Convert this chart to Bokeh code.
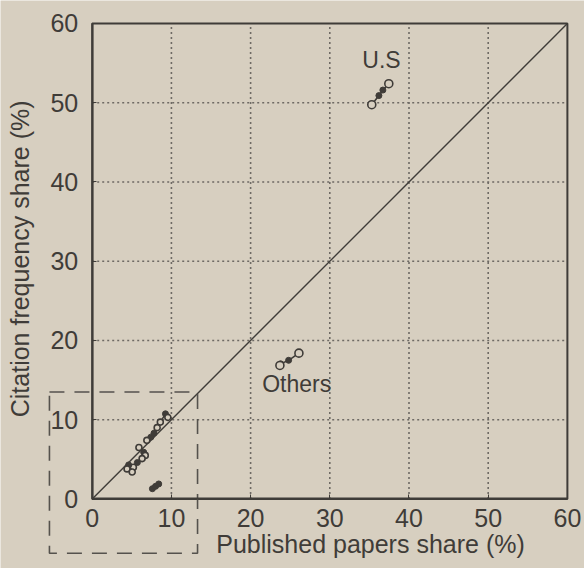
import math
from bokeh.plotting import figure
from bokeh.models import Range1d, FixedTicker, Label
from bokeh.embed import file_html
from bokeh.resources import INLINE

# ---- data ----
ticks = [0, 10, 20, 30, 40, 50, 60]
grid_ticks = [10, 20, 30, 40, 50]
axis_lo, axis_hi = 0, 60

us_x = [35.3, 36.2, 36.7, 37.45]
us_y = [49.75, 50.9, 51.6, 52.4]
others_x = [23.7, 23.8, 24.8, 26.1]
others_y = [16.85, 17.05, 17.5, 18.4]
c1_x = [8.6, 9.25, 9.55]
c1_y = [9.7, 10.75, 10.3]
c2_x = [6.9, 7.4, 7.8, 8.2]
c2_y = [7.4, 7.8, 8.3, 9.0]
c3_x = [5.9, 6.5, 6.7]
c3_y = [6.5, 5.9, 5.5]
c4_x = [5.2, 5.7, 6.3]
c4_y = [4.0, 4.6, 5.1]
c5_x = [4.4, 4.6, 5.05]
c5_y = [3.8, 4.3, 3.4]
c6_x = [7.6, 8.0, 8.4]
c6_y = [1.3, 1.6, 1.9]

series = [(us_x, us_y, True, 8), (others_x, others_y, True, 8), (c1_x, c1_y, True, 6),
          (c2_x, c2_y, True, 6), (c3_x, c3_y, True, 6), (c4_x, c4_y, True, 6),
          (c5_x, c5_y, True, 6), (c6_x, c6_y, False, 6)]

inset_left, inset_right, inset_bottom, inset_top = -5.4, 13.3, -6.85, 13.5

# ---- style ----
BG = "#d7cfc0"
INK = "#3f3c38"
FONT = "Liberation Sans"

W, H = 584, 568
p = figure(width=W, height=H, output_backend="svg", toolbar_location=None,
           x_range=Range1d(-11.58, 62.16), y_range=Range1d(-8.77, 62.90),
           min_border=0, min_border_left=0, min_border_right=0,
           min_border_top=0, min_border_bottom=0)
p.background_fill_color = BG
p.border_fill_color = BG
p.outline_line_color = None
p.grid.visible = False

for ax in (p.xaxis, p.yaxis):
    ax.fixed_location = 0
    ax.bounds = (axis_lo, axis_hi)
    ax.ticker = FixedTicker(ticks=ticks)
    ax.minor_tick_line_color = None
    ax.major_tick_in = 4
    ax.major_tick_out = 0
    ax.major_tick_line_color = INK
    ax.axis_line_color = INK
    ax.axis_line_width = 2
    ax.major_label_text_font = FONT
    ax.major_label_text_font_size = "25px"
    ax.major_label_text_color = INK
p.xaxis.major_label_standoff = 10
p.yaxis.major_label_standoff = 14

# dotted grid
n = len(grid_ticks)
p.segment(x0=grid_ticks, y0=[axis_lo] * n, x1=grid_ticks, y1=[axis_hi] * n,
          line_color="#6e6a64", line_width=1.6, line_dash="2 3")
p.segment(x0=[axis_lo] * n, y0=grid_ticks, x1=[axis_hi] * n, y1=grid_ticks,
          line_color="#6e6a64", line_width=1.6, line_dash="2 3")

# frame box
p.quad(left=[axis_lo], right=[axis_hi], bottom=[axis_lo], top=[axis_hi],
       fill_alpha=0, line_color=INK, line_width=2)

# diagonal
p.line(x=[axis_lo, axis_hi], y=[axis_lo, axis_hi], line_color=INK, line_width=1.4)

# dashed inset box
p.quad(left=[inset_left], right=[inset_right], bottom=[inset_bottom], top=[inset_top],
       fill_alpha=0, line_color="#55524d", line_width=1.6, line_dash="15 10")

# series
for xs, ys, open_ends, osize in series:
    p.line(x=xs, y=ys, line_color=INK, line_width=1.6)
    if open_ends:
        p.scatter(x=xs[1:-1], y=ys[1:-1], size=6, fill_color=INK, line_color=INK)
        p.scatter(x=[xs[0], xs[-1]], y=[ys[0], ys[-1]], size=osize, fill_color=BG,
                  line_color=INK, line_width=1.6)
    else:
        p.scatter(x=xs, y=ys, size=6, fill_color=INK, line_color=INK)

# text labels
p.add_layout(Label(x=34.1, y=53.8, text="U.S", text_font=FONT, text_font_size="23px",
                   text_color=INK))
p.add_layout(Label(x=21.46, y=12.9, text="Others", text_font=FONT, text_font_size="23px",
                   text_color=INK))
p.add_layout(Label(x=35.14, y=-7.45, text="Published papers share (%)", text_font=FONT,
                   text_font_size="25px", text_color=INK, text_align="center"))
p.add_layout(Label(x=-7.41, y=30.3, text="Citation frequency share (%)", text_font=FONT,
                   text_font_size="25px", text_color=INK, text_align="center",
                   angle=math.pi / 2))

open("out.html", "w").write(file_html(p, INLINE))
